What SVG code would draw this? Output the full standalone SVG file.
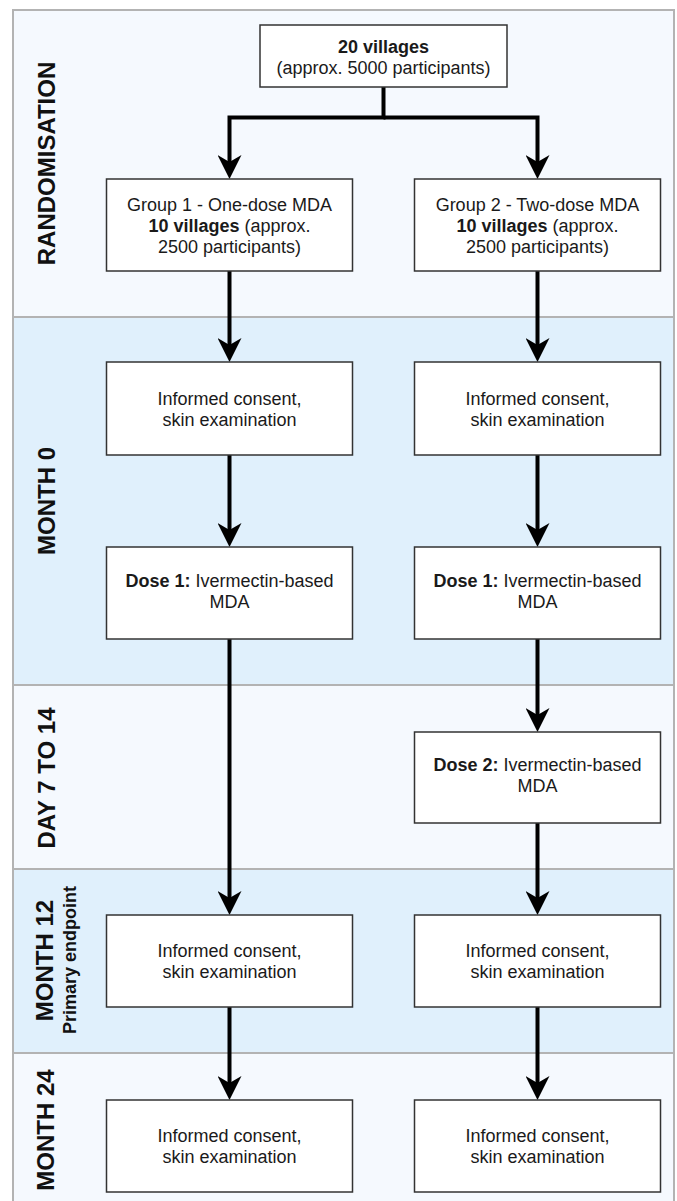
<svg xmlns="http://www.w3.org/2000/svg" width="677" height="1201" viewBox="0 0 677 1201">
<style>
.band-light{fill:#f5f9fe}
.band-blue{fill:#e0f0fc}
.sep{stroke:#b3b3b3;stroke-width:2;fill:none}
.box{fill:#ffffff;stroke:#333333;stroke-width:1.5}
.t{font-family:"Liberation Sans",Arial,Helvetica,sans-serif;font-size:18px;fill:#1a1a1a;text-anchor:middle}
.b{font-weight:bold}
.lab{font-family:"Liberation Sans",Arial,Helvetica,sans-serif;font-size:24px;font-weight:bold;fill:#111111;text-anchor:middle}
.sub{font-family:"Liberation Sans",Arial,Helvetica,sans-serif;font-size:18px;font-weight:bold;fill:#111111;text-anchor:middle}
.conn{fill:none;stroke:#000000;stroke-width:4;stroke-linejoin:miter}
</style>
<defs>
<marker id="arrow" markerUnits="userSpaceOnUse" markerWidth="24" markerHeight="24" viewBox="0 0 24 24" refX="7" refY="12" orient="auto">
<path d="M0,0 L24,12 L0,24 L7,12 Z" fill="#000000"/>
</marker>
</defs>

<g id="bands">
<rect class="band-light" x="13" y="10" width="661" height="307"/>
<rect class="band-blue" x="13" y="317" width="661" height="368"/>
<rect class="band-light" x="13" y="685" width="661" height="184"/>
<rect class="band-blue" x="13" y="869" width="661" height="184"/>
<rect class="band-light" x="13" y="1053" width="661" height="160"/>
<rect class="sep" x="13" y="10" width="661" height="1203"/>
<line class="sep" x1="13" y1="317" x2="674" y2="317"/>
<line class="sep" x1="13" y1="685" x2="674" y2="685"/>
<line class="sep" x1="13" y1="869" x2="674" y2="869"/>
<line class="sep" x1="13" y1="1053" x2="674" y2="1053"/>
</g>

<g id="labels">
<text class="lab" transform="translate(55,163.5) rotate(-90)">RANDOMISATION</text>
<text class="lab" transform="translate(55,501) rotate(-90)">MONTH 0</text>
<text class="lab" transform="translate(55,778) rotate(-90)">DAY 7 TO 14</text>
<text class="lab" transform="translate(53,960.5) rotate(-90)">MONTH 12</text>
<text class="sub" transform="translate(76,960) rotate(-90)">Primary endpoint</text>
<text class="lab" transform="translate(54,1130) rotate(-90)">MONTH 24</text>
</g>

<g id="connectors">
<path class="conn" d="M383.5,87 V117.5 H229.5 V162" marker-end="url(#arrow)"/>
<path class="conn" d="M383.5,117.5 H537.5 V162" marker-end="url(#arrow)"/>
<path class="conn" d="M229.5,271 V345" marker-end="url(#arrow)"/>
<path class="conn" d="M537.5,271 V345" marker-end="url(#arrow)"/>
<path class="conn" d="M229.5,455 V530" marker-end="url(#arrow)"/>
<path class="conn" d="M537.5,455 V530" marker-end="url(#arrow)"/>
<path class="conn" d="M229.5,639 V898" marker-end="url(#arrow)"/>
<path class="conn" d="M537.5,639 V715" marker-end="url(#arrow)"/>
<path class="conn" d="M537.5,823 V898" marker-end="url(#arrow)"/>
<path class="conn" d="M229.5,1007 V1083" marker-end="url(#arrow)"/>
<path class="conn" d="M537.5,1007 V1083" marker-end="url(#arrow)"/>
</g>

<g id="n-top">
<rect class="box" x="260" y="25" width="247" height="62"/>
<text class="t b" x="383.5" y="53">20 villages</text>
<text class="t" x="383.5" y="74">(approx. 5000 participants)</text>
</g>

<g id="n-group1">
<rect class="box" x="106.5" y="179" width="246" height="92"/>
<text class="t" x="229.5" y="210.5">Group 1 - One-dose MDA</text>
<text class="t" x="229.5" y="231.5"><tspan class="b">10 villages</tspan> (approx.</text>
<text class="t" x="229.5" y="252.5">2500 participants)</text>
</g>

<g id="n-group2">
<rect class="box" x="414.5" y="179" width="246" height="92"/>
<text class="t" x="537.5" y="210.5">Group 2 - Two-dose MDA</text>
<text class="t" x="537.5" y="231.5"><tspan class="b">10 villages</tspan> (approx.</text>
<text class="t" x="537.5" y="252.5">2500 participants)</text>
</g>

<g id="n-ic0-1">
<rect class="box" x="106.5" y="362" width="246" height="93"/>
<text class="t" x="229.5" y="404.5">Informed consent,</text>
<text class="t" x="229.5" y="425.5">skin examination</text>
</g>

<g id="n-ic0-2">
<rect class="box" x="414.5" y="362" width="246" height="93"/>
<text class="t" x="537.5" y="404.5">Informed consent,</text>
<text class="t" x="537.5" y="425.5">skin examination</text>
</g>

<g id="n-dose1-1">
<rect class="box" x="106.5" y="547" width="246" height="92"/>
<text class="t" x="229.5" y="587"><tspan class="b">Dose 1:</tspan> Ivermectin-based</text>
<text class="t" x="229.5" y="608">MDA</text>
</g>

<g id="n-dose1-2">
<rect class="box" x="414.5" y="547" width="246" height="92"/>
<text class="t" x="537.5" y="587"><tspan class="b">Dose 1:</tspan> Ivermectin-based</text>
<text class="t" x="537.5" y="608">MDA</text>
</g>

<g id="n-dose2">
<rect class="box" x="414.5" y="732" width="246" height="91"/>
<text class="t" x="537.5" y="771"><tspan class="b">Dose 2:</tspan> Ivermectin-based</text>
<text class="t" x="537.5" y="792">MDA</text>
</g>

<g id="n-ic12-1">
<rect class="box" x="106.5" y="915" width="246" height="92"/>
<text class="t" x="229.5" y="957">Informed consent,</text>
<text class="t" x="229.5" y="978">skin examination</text>
</g>

<g id="n-ic12-2">
<rect class="box" x="414.5" y="915" width="246" height="92"/>
<text class="t" x="537.5" y="957">Informed consent,</text>
<text class="t" x="537.5" y="978">skin examination</text>
</g>

<g id="n-ic24-1">
<rect class="box" x="106.5" y="1100" width="246" height="92"/>
<text class="t" x="229.5" y="1142">Informed consent,</text>
<text class="t" x="229.5" y="1163">skin examination</text>
</g>

<g id="n-ic24-2">
<rect class="box" x="414.5" y="1100" width="246" height="92"/>
<text class="t" x="537.5" y="1142">Informed consent,</text>
<text class="t" x="537.5" y="1163">skin examination</text>
</g>
</svg>
